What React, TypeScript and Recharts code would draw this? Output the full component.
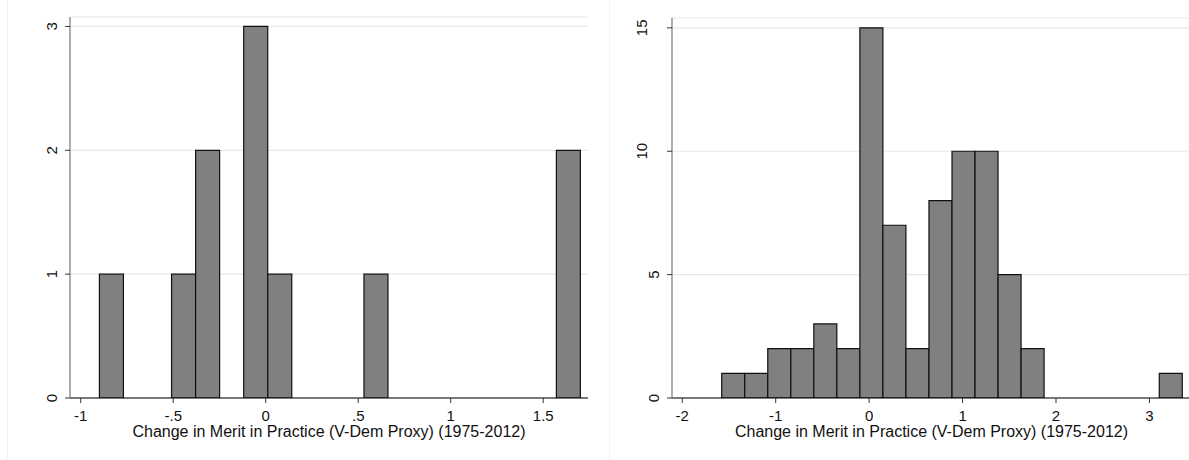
import React from "react";
import { BarChart, Bar, XAxis, YAxis, CartesianGrid } from "recharts";

// bins (count per bin, left to right)
const leftCounts = [1, 0, 0, 1, 2, 0, 3, 1, 0, 0, 0, 1, 0, 0, 0, 0, 0, 0, 0, 2];
const leftStart = -0.899;
const leftWidth = 0.13;
const leftXTicks = [-1, -0.5, 0, 0.5, 1, 1.5];
const leftYTicks = [0, 1, 2, 3];

const rightCounts = [1, 1, 2, 2, 3, 2, 15, 7, 2, 8, 10, 10, 5, 2, 0, 0, 0, 0, 0, 1];
const rightStart = -1.578;
const rightWidth = 0.2465;
const rightXTicks = [-2, -1, 0, 1, 2, 3];
const rightYTicks = [0, 5, 10, 15];

const xTitle = "Change in Merit in Practice (V-Dem Proxy) (1975-2012)";

const FONT = "'Liberation Sans', Arial, Helvetica, sans-serif";

const toBins = (counts: number[], start: number, width: number) =>
  counts.map((count, i) => ({ x: start + width * (i + 0.5), count }));

const stataFmt = (v: number) =>
  v === 0 ? "0" : String(v).replace(/^(-?)0\./, "$1.");

const XTick = (props: any) => {
  const { x, payload } = props;
  return (
    <text x={x} y={420.5} textAnchor="middle" fontSize={15} fontFamily={FONT} fill="#111">
      {stataFmt(payload.value)}
    </text>
  );
};

const makeYTick = (axisX: number) => (props: any) => {
  const { y, payload } = props;
  const label = String(payload.value);
  const cx = axisX - (label.length > 1 ? 30 : 18.5);
  return (
    <text
      x={cx}
      y={y}
      transform={`rotate(-90 ${cx} ${y})`}
      textAnchor="middle"
      dominantBaseline="central"
      fontSize={15}
      fontFamily={FONT}
      fill="#111"
    >
      {label}
    </text>
  );
};

const TitleLabel = (props: any) => {
  const { viewBox } = props;
  return (
    <text
      x={viewBox.x + viewBox.width / 2}
      y={436.7}
      textAnchor="middle"
      fontSize={16}
      fontFamily={FONT}
      fill="#111"
    >
      {xTitle}
    </text>
  );
};

type HistProps = {
  counts: number[];
  start: number;
  width: number;
  xDomain: [number, number];
  yDomain: [number, number];
  xTicks: number[];
  yTicks: number[];
  yAxisWidth: number;
  top: number;
  right: number;
  barSize: number;
};

const Histogram = (p: HistProps) => {
  const data = toBins(p.counts, p.start, p.width);
  return (
    <BarChart
      width={600}
      height={460}
      data={data}
      margin={{ top: p.top, right: p.right, left: 0, bottom: 0 }}
      barCategoryGap={0}
    >
      <CartesianGrid vertical={false} stroke="#e8e8e8" strokeWidth={1.2} />
      <XAxis
        type="number"
        dataKey="x"
        domain={p.xDomain}
        ticks={p.xTicks}
        allowDataOverflow
        height={62}
        tickSize={5}
        tickLine={{ stroke: "#333" }}
        axisLine={{ stroke: "#000", strokeWidth: 1.2 }}
        tick={<XTick />}
        interval={0}
        label={<TitleLabel />}
      />
      <YAxis
        type="number"
        domain={p.yDomain}
        ticks={p.yTicks}
        allowDataOverflow
        width={p.yAxisWidth}
        tickSize={5}
        tickLine={{ stroke: "#333" }}
        axisLine={{ stroke: "#777", strokeWidth: 1.2 }}
        tick={makeYTick(p.yAxisWidth)}
        interval={0}
      />
      <Bar
        dataKey="count"
        fill="#808080"
        stroke="#111"
        strokeWidth={1.2}
        barSize={p.barSize}
        isAnimationActive={false}
      />
    </BarChart>
  );
};

export default function App() {
  return (
    <div
      style={{
        position: "absolute",
        left: 0,
        top: 0,
        width: 1189,
        height: 460,
        overflow: "hidden",
        background: "#fff",
      }}
    >
      <div style={{ position: "absolute", left: 7, top: 0, width: 1, height: 460, background: "#f3f3f3" }} />
      <div style={{ position: "absolute", left: 609, top: 0, width: 1, height: 460, background: "#f3f3f3" }} />
      <div style={{ position: "absolute", left: 0, top: 0 }}>
        <Histogram
          counts={leftCounts}
          start={leftStart}
          width={leftWidth}
          xDomain={[-1.058, 1.742]}
          yDomain={[0, 3.076]}
          xTicks={leftXTicks}
          yTicks={leftYTicks}
          yAxisWidth={70}
          top={17}
          right={12}
          barSize={24}
        />
      </div>
      <div style={{ position: "absolute", left: 600, top: 0 }}>
        <Histogram
          counts={rightCounts}
          start={rightStart}
          width={rightWidth}
          xDomain={[-2.11, 3.445]}
          yDomain={[0, 15.4]}
          xTicks={rightXTicks}
          yTicks={rightYTicks}
          yAxisWidth={72}
          top={18}
          right={9}
          barSize={23}
        />
      </div>
    </div>
  );
}
